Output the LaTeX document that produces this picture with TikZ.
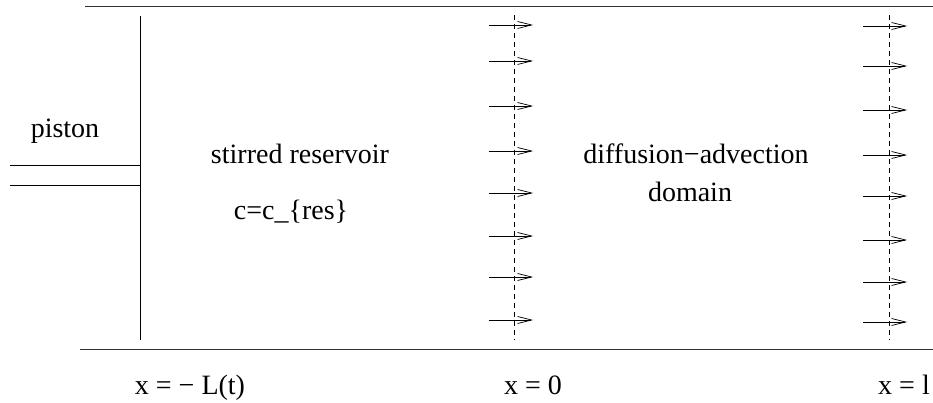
\documentclass[tikz,border=0pt]{standalone}
\usepackage{fontspec}
\setmainfont{Liberation Serif}
\usetikzlibrary{arrows.meta}
\begin{document}
\begin{tikzpicture}[x=1pt,y=-1pt,
  lbl/.style={anchor=base,inner sep=0pt,font=\fontsize{28}{32}\selectfont},
  wall/.style={line width=0.9pt,black!80},
  thin/.style={line width=0.7pt},
  dashline/.style={line width=0.7pt,dash pattern=on 5pt off 4pt},
  flux/.style={line width=0.7pt,-{Straight Barb[length=14pt,width=7pt,line width=0.7pt]}}]
\useasboundingbox (0,0) rectangle (933,403);
% walls
\coordinate (tl) at (85,6);
\coordinate (tr) at (933,6);
\coordinate (bl) at (80,349);
\coordinate (br) at (933,349);
\draw[wall] (tl) -- (tr);
\draw[wall] (bl) -- (br);
% piston
\coordinate (pt) at (140,16);
\coordinate (pb) at (140,340);
\coordinate (r1a) at (10,165);
\coordinate (r1b) at (140,165);
\coordinate (r2a) at (10,185);
\coordinate (r2b) at (140,185);
\draw[thin] (pt) -- (pb);
\draw[thin] (r1a) -- (r1b);
\draw[thin] (r2a) -- (r2b);
% boundaries
\coordinate (d0t) at (514,15);
\coordinate (d0b) at (514,340);
\coordinate (d1t) at (889,15);
\coordinate (d1b) at (889,340);
\draw[dashline] (d0t) -- (d0b);
\draw[dashline] (d1t) -- (d1b);
% flux arrows
\foreach \y [count=\i] in {25,61,106,151,193,236,277,320}{
  \coordinate (a\i s) at (489,\y);
  \coordinate (a\i e) at (533,\y);
  \draw[flux] (a\i s) -- (a\i e);
}
\foreach \y [count=\i] in {26,66,110,155,196,240,282,322}{
  \coordinate (b\i s) at (863,\y);
  \coordinate (b\i e) at (907,\y);
  \draw[flux] (b\i s) -- (b\i e);
}
% labels
\node[lbl] (piston) at (65,138) {piston};
\node[lbl] (stir) at (300,164) {stirred reservoir};
\node[lbl] (cres) at (291,220) {c=c\_\{res\}};
\node[lbl] (diff) at (696,164) {diffusion−advection};
\node[lbl] (dom) at (690,202) {domain};
\node[lbl] (xl) at (190,394) {x = − L(t)};
\node[lbl] (x0) at (533,394) {x = 0};
\node[lbl] (x1) at (904,394) {x = l};
\end{tikzpicture}
\end{document}
